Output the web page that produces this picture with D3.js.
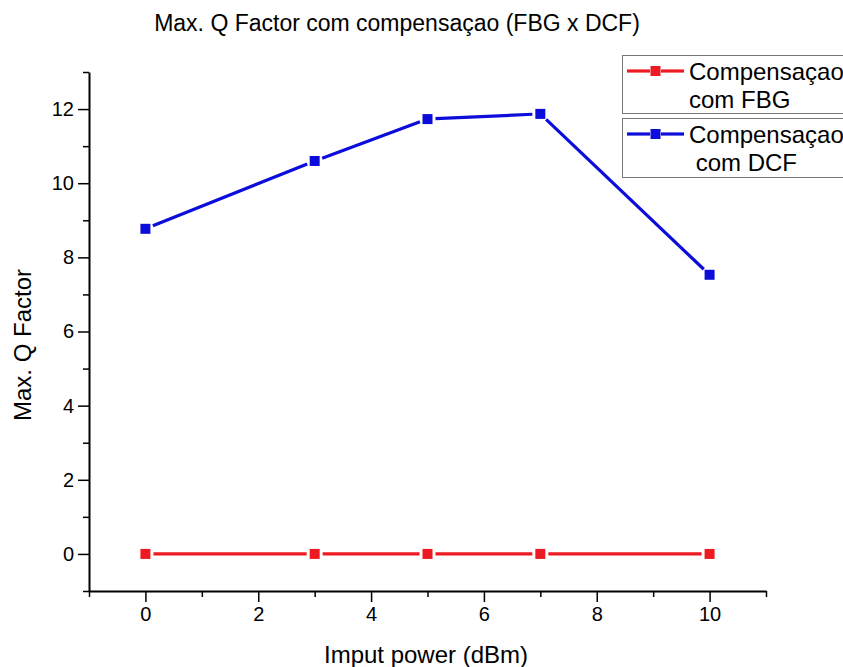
<!DOCTYPE html>
<html>
<head>
<meta charset="utf-8">
<script src="https://cdn.jsdelivr.net/npm/d3@7/dist/d3.min.js"></script>
<style>
  html, body { margin: 0; padding: 0; background: #fff; }
  svg { display: block; font-family: "Liberation Sans", Arial, sans-serif; }
</style>
</head>
<body>
<svg id="chart" width="843" height="667"></svg>
<script>
// Input power (dBm) at which the Q factor was measured
const inputPower = [0, 3, 5, 7, 10];
// Max. Q factor for each compensation scheme
const qFbg = [0, 0, 0, 0, 0];
const qDcf = [8.77, 10.6, 11.73, 11.87, 7.53];
const xTicks = [0, 2, 4, 6, 8, 10];
const yTicks = [0, 2, 4, 6, 8, 10, 12];
const seriesNames = [["Compensaçao", "com FBG"], ["Compensaçao", " com DCF"]];
const seriesColors = ["#ee1a22", "#0d0ddb"];

const svg = d3.select("#chart");
const plot = { left: 89, right: 766, top: 72, bottom: 591 };

const x = d3.scaleLinear().domain([-1, 11]).range([plot.left, plot.right]);
const y = d3.scaleLinear().domain([-1, 13]).range([plot.bottom, plot.top]);

// Title
svg.append("text")
  .attr("x", 397).attr("y", 31)
  .attr("text-anchor", "middle")
  .attr("font-size", 23)
  .text("Max. Q Factor com compensaçao (FBG x DCF)");

// Axes: major ticks labelled, minor ticks at the odd values
function styleAxis(g) {
  g.attr("font-size", 20).attr("font-family", "'Liberation Sans', Arial, sans-serif");
  g.selectAll("path").attr("stroke", "#000").attr("stroke-width", 2);
  g.selectAll("line").attr("stroke", "#000").attr("stroke-width", 1.5);
  g.selectAll("text").attr("fill", "#000").style("font-size", "20px");
}

const xMinor = d3.range(-1, 12, 2);
svg.append("g")
  .attr("transform", `translate(0,${plot.bottom})`)
  .call(d3.axisBottom(x).tickValues(xMinor).tickSize(6).tickFormat("").tickSizeOuter(0))
  .call(styleAxis);
svg.append("g")
  .attr("transform", `translate(0,${plot.bottom})`)
  .call(d3.axisBottom(x).tickValues(xTicks).tickSize(11).tickPadding(5).tickFormat(d3.format("d")).tickSizeOuter(0))
  .call(styleAxis)
  .call(g => g.select("path").remove());

const yMinor = d3.range(-1, 14, 2);
svg.append("g")
  .attr("transform", `translate(${plot.left},0)`)
  .call(d3.axisLeft(y).tickValues(yMinor).tickSize(6).tickFormat("").tickSizeOuter(0))
  .call(styleAxis);
svg.append("g")
  .attr("transform", `translate(${plot.left},0)`)
  .call(d3.axisLeft(y).tickValues(yTicks).tickSize(11).tickPadding(4).tickFormat(d3.format("d")).tickSizeOuter(0))
  .call(styleAxis)
  .call(g => g.select("path").remove());

// Axis titles
svg.append("text")
  .attr("x", 426).attr("y", 663)
  .attr("text-anchor", "middle")
  .attr("font-size", 24)
  .text("Imput power (dBm)");
svg.append("text")
  .attr("transform", `translate(31,${345}) rotate(-90)`)
  .attr("text-anchor", "middle")
  .attr("font-size", 24)
  .text("Max. Q Factor");

// Series: line segments stop short of each square marker
const markerSize = 10;
const gap = 8;
function drawSeries(values, color) {
  const pts = inputPower.map((p, i) => [x(p), y(values[i])]);
  const g = svg.append("g");
  for (let i = 0; i < pts.length - 1; i++) {
    const [x0, y0] = pts[i], [x1, y1] = pts[i + 1];
    const len = Math.hypot(x1 - x0, y1 - y0);
    const ux = (x1 - x0) / len, uy = (y1 - y0) / len;
    g.append("line")
      .attr("x1", x0 + ux * gap).attr("y1", y0 + uy * gap)
      .attr("x2", x1 - ux * gap).attr("y2", y1 - uy * gap)
      .attr("stroke", color).attr("stroke-width", 3.2);
  }
  g.selectAll("rect").data(pts).join("rect")
    .attr("x", d => d[0] - markerSize / 2)
    .attr("y", d => d[1] - markerSize / 2)
    .attr("width", markerSize).attr("height", markerSize)
    .attr("fill", color);
}
drawSeries(qFbg, seriesColors[0]);
drawSeries(qDcf, seriesColors[1]);

// Legend: one framed entry per series
const legendBoxes = [{ top: 55, bottom: 113, second: 689 }, { top: 118, bottom: 177, second: 689 }];
seriesNames.forEach((lines, i) => {
  const b = legendBoxes[i];
  const g = svg.append("g");
  g.append("rect")
    .attr("x", 622.5).attr("y", b.top + 0.5)
    .attr("width", 240).attr("height", b.bottom - b.top)
    .attr("fill", "#fff").attr("stroke", "#777").attr("stroke-width", 1);
  const ly = b.top + 16;
  g.append("line").attr("x1", 627).attr("x2", 650).attr("y1", ly).attr("y2", ly)
    .attr("stroke", seriesColors[i]).attr("stroke-width", 3.2);
  g.append("line").attr("x1", 661).attr("x2", 684).attr("y1", ly).attr("y2", ly)
    .attr("stroke", seriesColors[i]).attr("stroke-width", 3.2);
  g.append("rect").attr("x", 650.5).attr("y", ly - 5).attr("width", 10).attr("height", 10)
    .attr("fill", seriesColors[i]);
  g.append("text").attr("x", 689).attr("y", ly + 9).attr("font-size", 24).text(lines[0]);
  g.append("text").attr("x", b.second).attr("y", ly + 37).attr("font-size", 24)
    .attr("xml:space", "preserve").style("white-space", "pre").text(lines[1]);
});
</script>
</body>
</html>
